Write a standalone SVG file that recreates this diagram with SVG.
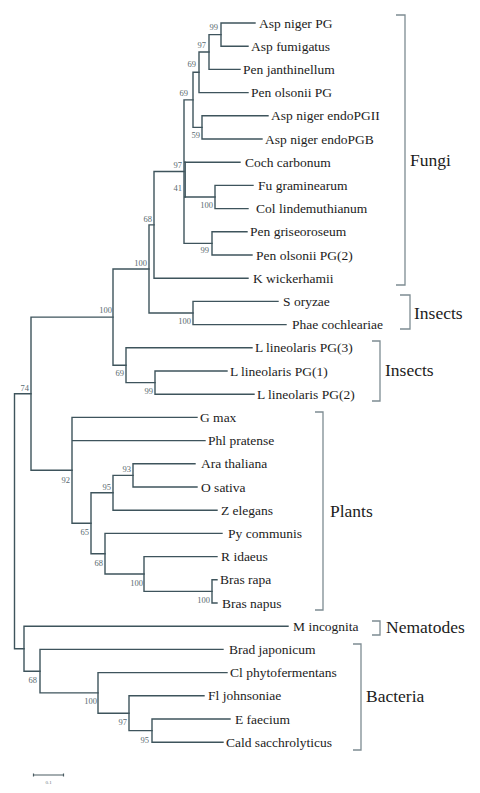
<svg xmlns="http://www.w3.org/2000/svg" width="480" height="793" viewBox="0 0 480 793">
<style>
.br{stroke:#3e545c;stroke-width:1.4;fill:none;stroke-linecap:square}
.lf{font-family:"Liberation Serif","Times New Roman",serif;font-size:13.5px;fill:#1c1c1c}
.bs{font-family:"Liberation Serif","Times New Roman",serif;font-size:8.5px;fill:#5a6a70;text-anchor:end}
.bk{stroke:#7d8c92;stroke-width:1.3;fill:none}
.gl{font-family:"Liberation Serif","Times New Roman",serif;font-size:17.5px;fill:#1c1c1c}
</style>
<rect width="480" height="793" fill="#ffffff"/>
<g id="connectors">
<path class="br" d="M221,23H255M221,46.2H248M221,23V46.2"/>
<path class="br" d="M209,34.6H221M209,69.4H240M209,34.6V69.4"/>
<path class="br" d="M199,52H209M199,92.6H248M199,52V92.6"/>
<path class="br" d="M202,115.8H268M202,139H262M202,115.8V139"/>
<path class="br" d="M193,72.3H199M193,127.4H202M193,72.3V127.4"/>
<path class="br" d="M215,185.4H253M215,208.6H248M215,185.4V208.6"/>
<path class="br" d="M212,231.8H247M212,255H252M212,231.8V255"/>
<path class="br" d="M184,99.85H193M184,162.2H240M184,197H215M184,243.4H212M184,99.85V243.4"/>
<path class="br" d="M185.2,162.2V197"/>
<path class="br" d="M154,171.5H184M154,278.2H248M154,171.5V278.2"/>
<path class="br" d="M193,301.4H278M193,324.6H286M193,301.4V324.6"/>
<path class="br" d="M149,224.9H154M149,313H193M149,224.9V313"/>
<path class="br" d="M155,371H227M155,394.2H254M155,371V394.2"/>
<path class="br" d="M126,347.8H252M126,382.6H155M126,347.8V382.6"/>
<path class="br" d="M113,269H149M113,365.2H126M113,269V365.2"/>
<path class="br" d="M133,463.8H195M133,487H197M133,463.8V487"/>
<path class="br" d="M113,475.4H133M113,510.2H217M113,475.4V510.2"/>
<path class="br" d="M212,579.8H217M212,603H217M212,579.8V603"/>
<path class="br" d="M144,556.6H217M144,591.4H212M144,556.6V591.4"/>
<path class="br" d="M105,533.4H222M105,574H144M105,533.4V574"/>
<path class="br" d="M91,492.8H113M91,553.7H105M91,492.8V553.7"/>
<path class="br" d="M72,417.4H197M72,440.6H205M72,523.2H91M72,417.4V523.2"/>
<path class="br" d="M31,317.1H113M31,470.3H72M31,317.1V470.3"/>
<path class="br" d="M152,719H230M152,742.2H223M152,719V742.2"/>
<path class="br" d="M129,695.8H204M129,730.6H152M129,695.8V730.6"/>
<path class="br" d="M98,672.6H227M98,713.2H129M98,672.6V713.2"/>
<path class="br" d="M40,649.4H223M40,692.9H98M40,649.4V692.9"/>
<path class="br" d="M24,626.2H288M24,671.2H40M24,626.2V671.2"/>
<path class="br" d="M14.5,393.7H31M14.5,648.7H24M14.5,393.7V648.7"/>
</g>
<g id="leaf-asp-niger-pg"><text class="lf" x="259" y="27.5">Asp niger PG</text></g>
<g id="leaf-asp-fumigatus"><text class="lf" x="251" y="50.7">Asp fumigatus</text></g>
<g id="leaf-pen-janthinellum"><text class="lf" x="243" y="73.9">Pen janthinellum</text></g>
<g id="leaf-pen-olsonii-pg"><text class="lf" x="251" y="97.1">Pen olsonii PG</text></g>
<g id="leaf-asp-niger-endopgii"><text class="lf" x="271" y="120.3">Asp niger endoPGII</text></g>
<g id="leaf-asp-niger-endopgb"><text class="lf" x="265" y="143.5">Asp niger endoPGB</text></g>
<g id="leaf-coch-carbonum"><text class="lf" x="245" y="166.7">Coch carbonum</text></g>
<g id="leaf-fu-graminearum"><text class="lf" x="258" y="189.9">Fu graminearum</text></g>
<g id="leaf-col-lindemuthianum"><text class="lf" x="256" y="213.1">Col lindemuthianum</text></g>
<g id="leaf-pen-griseoroseum"><text class="lf" x="250" y="236.3">Pen griseoroseum</text></g>
<g id="leaf-pen-olsonii-pg2"><text class="lf" x="256" y="259.5">Pen olsonii PG(2)</text></g>
<g id="leaf-k-wickerhamii"><text class="lf" x="253" y="282.7">K wickerhamii</text></g>
<g id="leaf-s-oryzae"><text class="lf" x="283" y="305.9">S oryzae</text></g>
<g id="leaf-phae-cochleariae"><text class="lf" x="292" y="329.1">Phae cochleariae</text></g>
<g id="leaf-l-lineolaris-pg3"><text class="lf" x="255" y="352.3">L lineolaris PG(3)</text></g>
<g id="leaf-l-lineolaris-pg1"><text class="lf" x="230" y="375.5">L lineolaris PG(1)</text></g>
<g id="leaf-l-lineolaris-pg2"><text class="lf" x="257" y="398.7">L lineolaris PG(2)</text></g>
<g id="leaf-g-max"><text class="lf" x="200" y="421.9">G max</text></g>
<g id="leaf-phl-pratense"><text class="lf" x="208" y="445.1">Phl pratense</text></g>
<g id="leaf-ara-thaliana"><text class="lf" x="201" y="468.3">Ara thaliana</text></g>
<g id="leaf-o-sativa"><text class="lf" x="201" y="491.5">O sativa</text></g>
<g id="leaf-z-elegans"><text class="lf" x="221" y="514.7">Z elegans</text></g>
<g id="leaf-py-communis"><text class="lf" x="228" y="537.9">Py communis</text></g>
<g id="leaf-r-idaeus"><text class="lf" x="221" y="561.1">R idaeus</text></g>
<g id="leaf-bras-rapa"><text class="lf" x="220" y="584.3">Bras rapa</text></g>
<g id="leaf-bras-napus"><text class="lf" x="222" y="607.5">Bras napus</text></g>
<g id="leaf-m-incognita"><text class="lf" x="293" y="630.7">M incognita</text></g>
<g id="leaf-brad-japonicum"><text class="lf" x="229" y="653.9">Brad japonicum</text></g>
<g id="leaf-cl-phytofermentans"><text class="lf" x="230" y="677.1">Cl phytofermentans</text></g>
<g id="leaf-fl-johnsoniae"><text class="lf" x="208" y="700.3">Fl johnsoniae</text></g>
<g id="leaf-e-faecium"><text class="lf" x="235" y="723.5">E faecium</text></g>
<g id="leaf-cald-sacchrolyticus"><text class="lf" x="226" y="746.7">Cald sacchrolyticus</text></g>
<g id="bootstrap">
<g id="n1"><text class="bs" x="218" y="30">99</text></g>
<g id="n2"><text class="bs" x="206" y="48">97</text></g>
<g id="n3"><text class="bs" x="196" y="67">69</text></g>
<g id="n4"><text class="bs" x="188" y="96">69</text></g>
<g id="n5"><text class="bs" x="200" y="138">59</text></g>
<g id="n6"><text class="bs" x="182" y="168">97</text></g>
<g id="n7"><text class="bs" x="182" y="191">41</text></g>
<g id="n8"><text class="bs" x="213" y="208">100</text></g>
<g id="n9"><text class="bs" x="209" y="253">99</text></g>
<g id="n10"><text class="bs" x="152" y="222">68</text></g>
<g id="n11"><text class="bs" x="147" y="266">100</text></g>
<g id="n12"><text class="bs" x="191" y="324">100</text></g>
<g id="n13"><text class="bs" x="112" y="313">100</text></g>
<g id="n14"><text class="bs" x="124" y="376">69</text></g>
<g id="n15"><text class="bs" x="153" y="394">99</text></g>
<g id="n16"><text class="bs" x="29" y="391">74</text></g>
<g id="n17"><text class="bs" x="70" y="483">92</text></g>
<g id="n18"><text class="bs" x="131" y="472">93</text></g>
<g id="n19"><text class="bs" x="111" y="490">95</text></g>
<g id="n20"><text class="bs" x="89" y="535">65</text></g>
<g id="n21"><text class="bs" x="103" y="566">68</text></g>
<g id="n22"><text class="bs" x="143" y="586">100</text></g>
<g id="n23"><text class="bs" x="210" y="603">100</text></g>
<g id="n24"><text class="bs" x="37" y="683">68</text></g>
<g id="n25"><text class="bs" x="97" y="704">100</text></g>
<g id="n26"><text class="bs" x="127" y="725">97</text></g>
<g id="n27"><text class="bs" x="149" y="743">95</text></g>
</g>
<g id="clade-fungi"><path class="bk" d="M396,15H405V285H396"/><text class="gl" x="410" y="166">Fungi</text></g>
<g id="clade-insects-1"><path class="bk" d="M400,295H410V329H400"/><text class="gl" x="414" y="319">Insects</text></g>
<g id="clade-insects-2"><path class="bk" d="M372,341H380V401H372"/><text class="gl" x="385" y="376">Insects</text></g>
<g id="clade-plants"><path class="bk" d="M315,412H323V610H315"/><text class="gl" x="330" y="517">Plants</text></g>
<g id="clade-nematodes"><path class="bk" d="M372,621H380V635H372"/><text class="gl" x="386" y="633">Nematodes</text></g>
<g id="clade-bacteria"><path class="bk" d="M353,644H361V750H353"/><text class="gl" x="366" y="702">Bacteria</text></g>
<g id="scale-bar">
<path d="M33.5,775H63.5M33.5,773.5V776.5M63.5,773.5V776.5" stroke="#4a5c62" stroke-width="1.2" fill="none"/>
<text x="48.5" y="784" font-family="Liberation Serif, serif" font-size="5" fill="#6a7a80" text-anchor="middle">0.1</text>
</g>
</svg>
